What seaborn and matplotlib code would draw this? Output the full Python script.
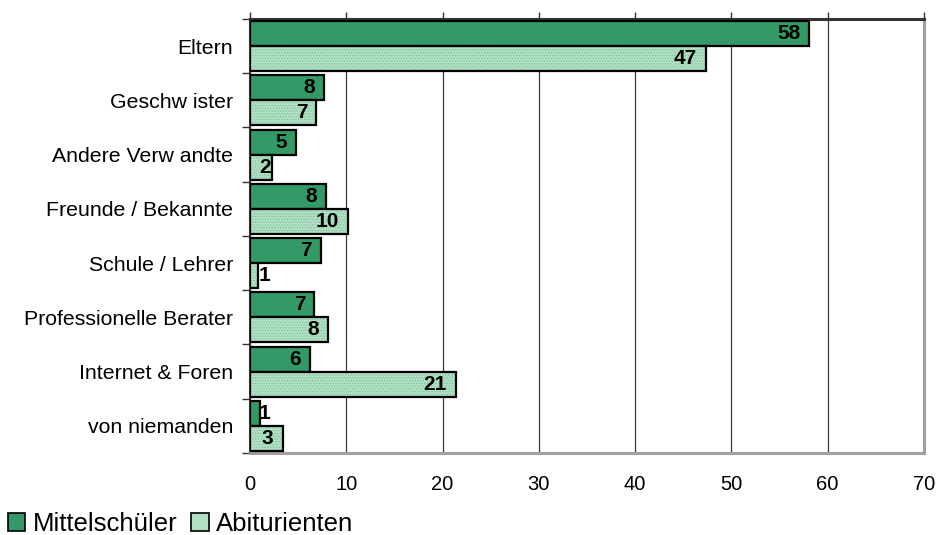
import pandas as pd
import matplotlib.pyplot as plt
import seaborn as sns
from matplotlib.patches import Patch, Rectangle
from matplotlib.ticker import FixedLocator

# Werte
quellen = ['Eltern', 'Geschw ister', 'Andere Verw andte', 'Freunde / Bekannte',
           'Schule / Lehrer', 'Professionelle Berater', 'Internet & Foren', 'von niemanden']
mittelschueler = [58.1, 7.7, 4.8, 7.9, 7.4, 6.7, 6.25, 1.0]
abiturienten = [47.4, 6.9, 2.3, 10.2, 0.8, 8.1, 21.4, 3.4]
label_mittel = [58, 8, 5, 8, 7, 7, 6, 1]
label_abi = [47, 7, 2, 10, 1, 8, 21, 3]
x_ticks = [0, 10, 20, 30, 40, 50, 60, 70]

dunkel = '#339966'
hell = '#b0dfc4'
punkte = '#7cbf9a'

df = pd.DataFrame({
    'quelle': quellen * 2,
    'wert': mittelschueler + abiturienten,
    'gruppe': ['Mittelschüler'] * len(quellen) + ['Abiturienten'] * len(quellen),
})

sns.set_style('white')
plt.rcParams['font.family'] = ['Liberation Sans', 'DejaVu Sans']
plt.rcParams['text.color'] = 'black'
plt.rcParams['hatch.linewidth'] = 0.5

fig = plt.figure(figsize=(9.38, 5.35), dpi=100)
ax = fig.add_axes([0.2665, 0.1533, 0.7185, 0.8112])

sns.barplot(data=df, y='quelle', x='wert', hue='gruppe', orient='h',
            palette=[dunkel, hell], saturation=1, width=0.92, gap=0,
            edgecolor='black', linewidth=1.6, legend=False, ax=ax, zorder=3)

# Abiturienten: gepunktete Fuellung, schwarzer Rand extra drueber
for p in ax.containers[1]:
    p.set_edgecolor(punkte)
    p.set_linewidth(0)
    p.set_hatch('......')
    ax.add_patch(Rectangle(p.get_xy(), p.get_width(), p.get_height(), fill=False,
                           edgecolor='black', linewidth=1.6, zorder=4))

# Datenbeschriftung innen am Balkenende, links am Achsenanfang begrenzt
def beschriften(container, werte, labels):
    for p, v, lab in zip(container, werte, labels):
        w = 0.95 * len(str(lab))
        x = max(v - 0.95, 1.2 + w)
        y = p.get_y() + p.get_height() / 2
        ax.text(x, y, str(lab), ha='right', va='center', fontsize=15,
                fontweight='bold', color='black', zorder=5)

beschriften(ax.containers[0], mittelschueler, label_mittel)
beschriften(ax.containers[1], abiturienten, label_abi)

ax.set_xlim(0, 70)
ax.set_ylim(len(quellen) - 0.5, -0.5)
ax.set_xticks(x_ticks)
ax.set_xticklabels([str(t) for t in x_ticks], fontsize=14.5)
ax.xaxis.grid(True, color='#3a3a3a', linewidth=0.9, zorder=0)
ax.yaxis.grid(False)
ax.tick_params(axis='x', bottom=False, top=True, labelbottom=True, labeltop=False,
               direction='out', length=5, width=1, color='#333333', pad=11,
               labelcolor='black')

ax.set_yticks(range(len(quellen)))
ax.set_yticklabels(quellen, fontsize=15.3)
ax.yaxis.set_minor_locator(FixedLocator([i - 0.5 for i in range(len(quellen) + 1)]))
ax.tick_params(axis='y', which='major', length=0, pad=12, labelcolor='black')
ax.tick_params(axis='y', which='minor', left=True, direction='out', length=6,
               width=1, color='#333333')
ax.set_xlabel('')
ax.set_ylabel('')

for s in ['top', 'left']:
    ax.spines[s].set_color('#333333')
ax.spines['top'].set_linewidth(2.2)
ax.spines['left'].set_linewidth(1.5)
for s in ['bottom', 'right']:
    ax.spines[s].set_color('#a0a0a0')
    ax.spines[s].set_linewidth(2.2)

handles = [Patch(facecolor=dunkel, edgecolor='black', linewidth=1.2),
           Patch(facecolor=hell, edgecolor='black', linewidth=1.2)]
fig.legend(handles, ['Mittelschüler', 'Abiturienten'], loc='center left',
           bbox_to_anchor=(0.008, 0.02), ncol=2, frameon=False, fontsize=18.5,
           handlelength=0.7, handleheight=0.7, handletextpad=0.3,
           columnspacing=0.5, borderaxespad=0, borderpad=0)

plt.savefig('out.png', dpi=100)
